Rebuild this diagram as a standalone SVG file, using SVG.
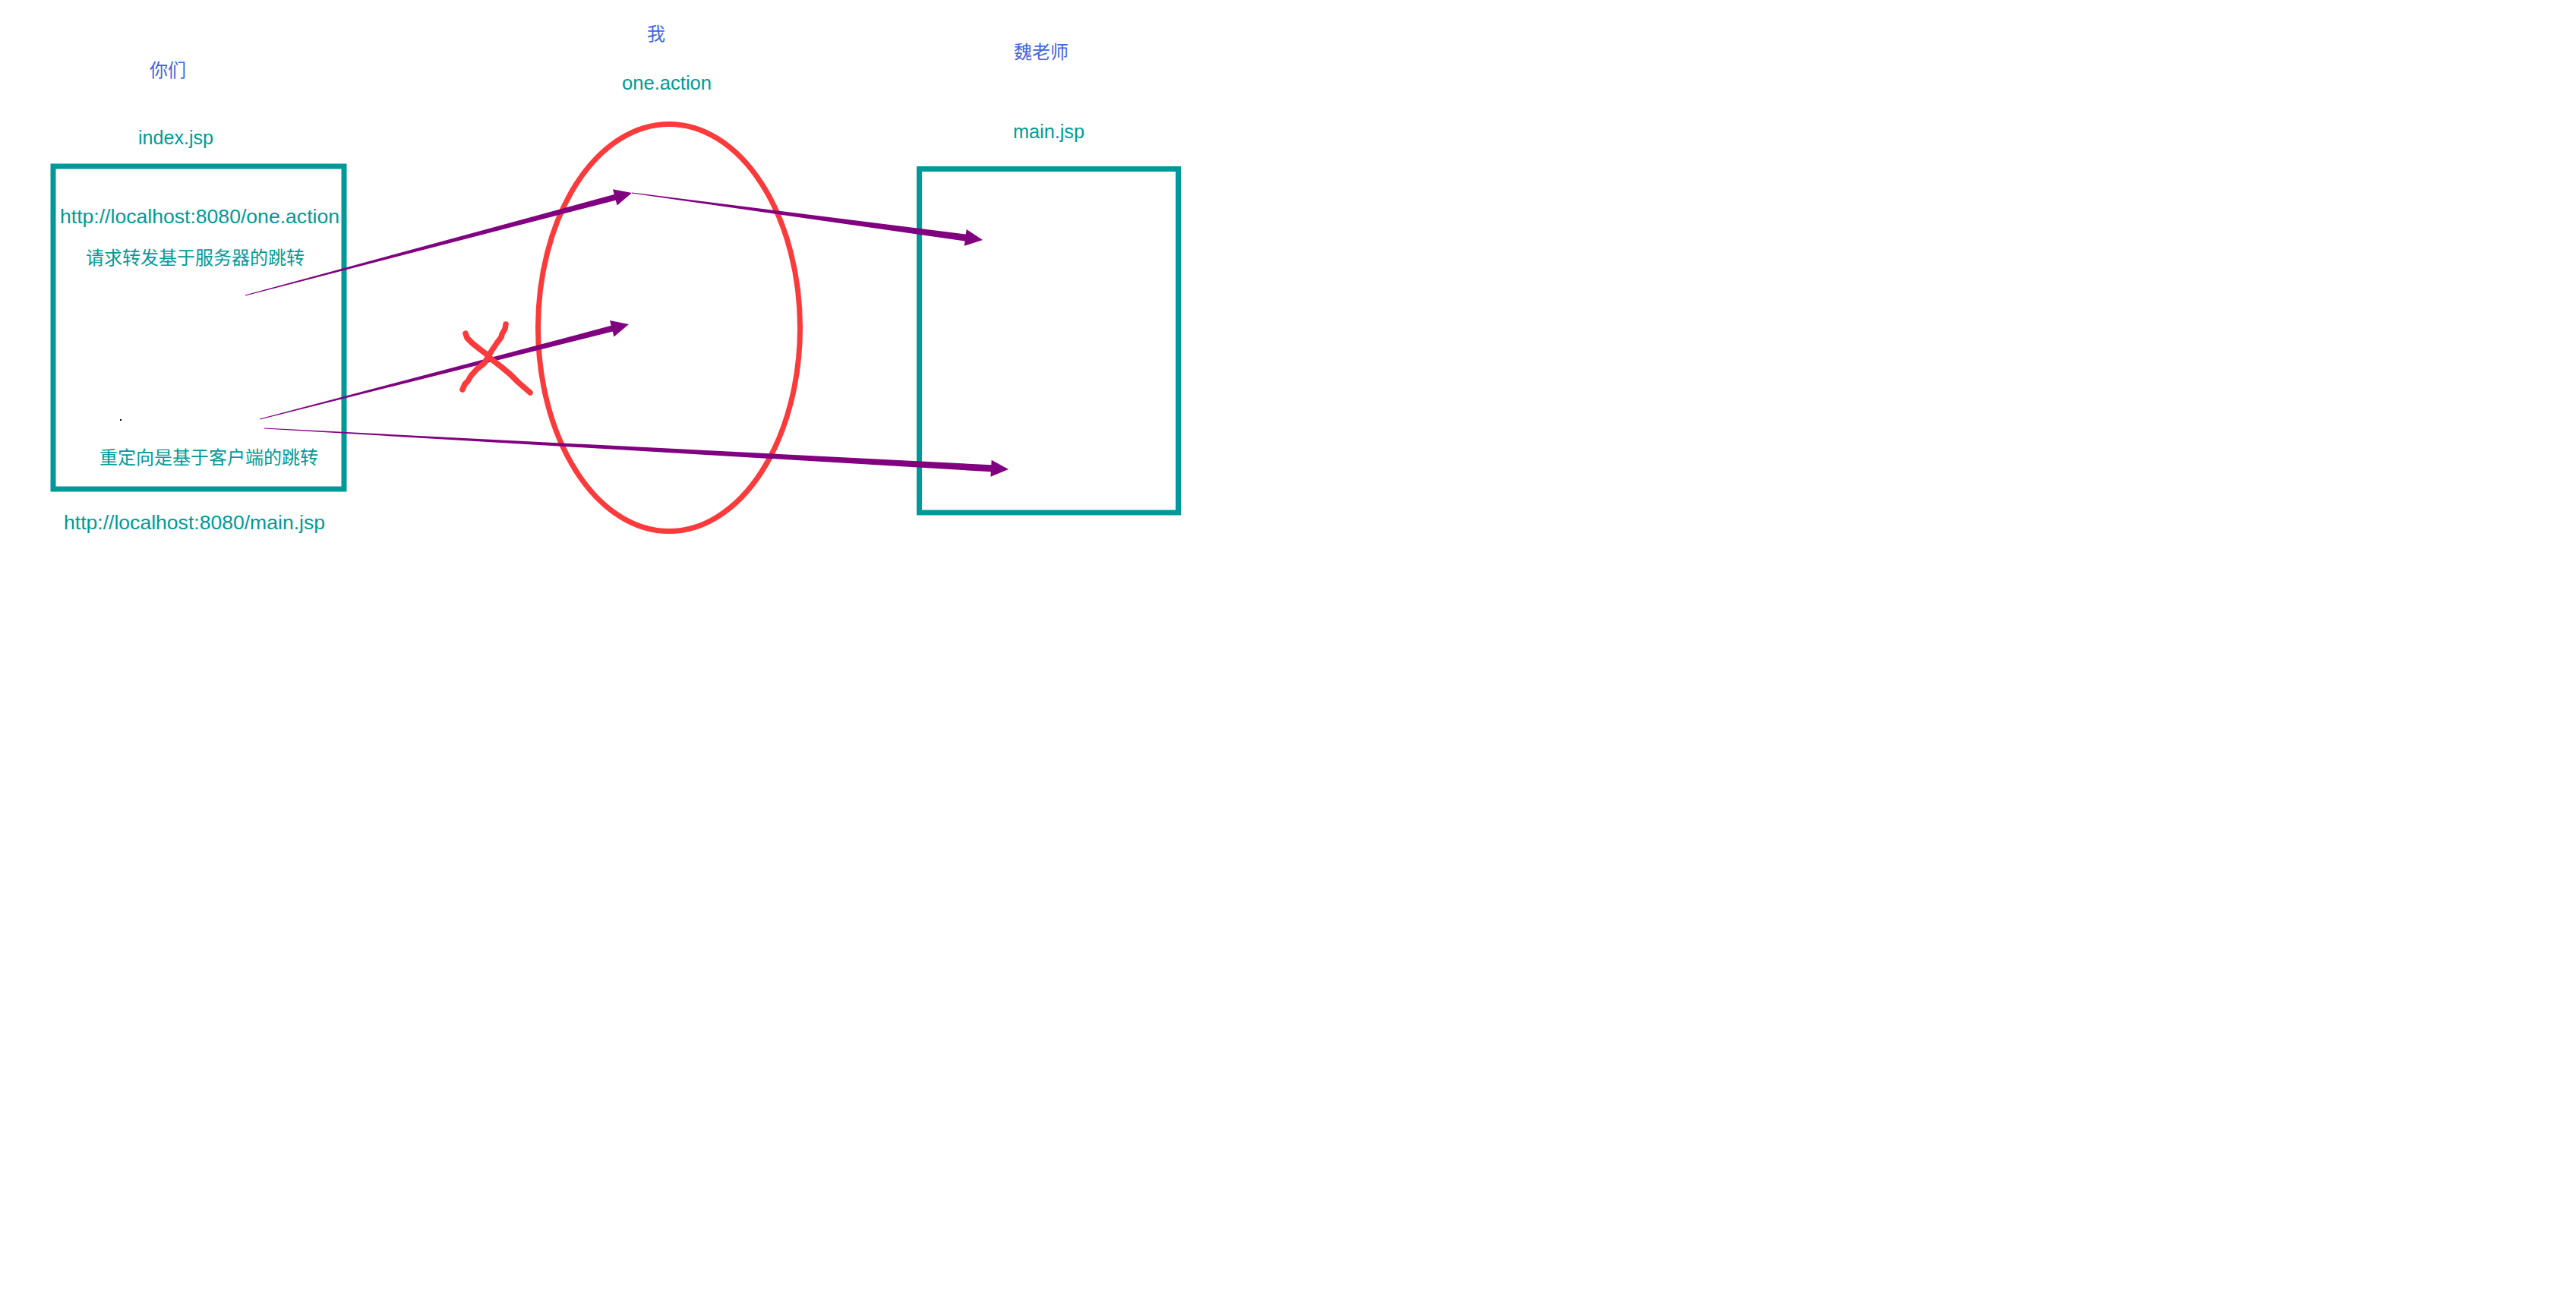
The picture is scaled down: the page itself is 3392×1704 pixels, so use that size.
<svg xmlns="http://www.w3.org/2000/svg" width="3392" height="1704" viewBox="0 0 3392 1704">
<style>
.box{fill:none;stroke:#009999;stroke-width:7}
.oval{fill:none;stroke:#fb3b3b;stroke-width:7}
.lat{font-family:"Liberation Sans","Noto Sans",sans-serif;font-size:26px;fill:#009a97}
.cjk{font-family:"Noto Sans CJK SC","Noto Sans",sans-serif;font-size:24px;fill:#009a97}
.who{font-family:"Noto Sans CJK SC","Noto Sans",sans-serif;font-size:24px;fill:#4166dc}
.arrow{fill:#800080;stroke:none}
.cross{fill:none;stroke:#fb3b3b;stroke-width:7.5;stroke-linecap:round;stroke-linejoin:round}
</style>
<rect width="3392" height="1704" fill="#ffffff"/>
<g id="node-index">
<rect class="box" x="70" y="219" width="383" height="425"/>
<text class="who" x="221" y="101" text-anchor="middle">你们</text>
<text class="lat" x="182" y="190" textLength="99" lengthAdjust="spacingAndGlyphs">index.jsp</text>
<text class="lat" x="79" y="294" textLength="368" lengthAdjust="spacingAndGlyphs">http://localhost:8080/one.action</text>
<text class="cjk" x="113" y="348">请求转发基于服务器的跳转</text>
<text class="cjk" x="131" y="611">重定向是基于客户端的跳转</text>
<text class="lat" x="84" y="697" textLength="344" lengthAdjust="spacingAndGlyphs">http://localhost:8080/main.jsp</text>
<rect x="158" y="552" width="2" height="2" fill="#000000"/>
</g>
<g id="node-one-action">
<ellipse class="oval" cx="881" cy="431.5" rx="172.5" ry="268"/>
<text class="who" x="864" y="53" text-anchor="middle">我</text>
<text class="lat" x="819" y="118" textLength="118" lengthAdjust="spacingAndGlyphs">one.action</text>
</g>
<g id="node-main">
<rect class="box" x="1210.5" y="222.5" width="341" height="452.5"/>
<text class="who" x="1371" y="77" text-anchor="middle">魏老师</text>
<text class="lat" x="1334" y="182" textLength="94" lengthAdjust="spacingAndGlyphs">main.jsp</text>
</g>
<g id="connectors">
<path class="arrow" d="M322.87,388.52 L808.74,256.03 L806.95,249.27 L832,254 L812.59,270.53 L810.80,263.77 L323.13,389.48 Z"/>
<path class="arrow" d="M832.07,253.50 L1271.80,308.48 L1272.66,302.04 L1294,316 L1269.74,323.84 L1270.60,317.40 L831.93,254.50 Z"/>
<path class="arrow" d="M341.88,551.52 L804.72,428.86 L802.98,422.08 L828,427 L808.46,443.38 L806.72,436.60 L342.12,552.48 Z"/>
<path class="arrow" d="M348.03,563.50 L1305.28,612.24 L1305.64,605.75 L1328,618 L1304.43,627.71 L1304.78,621.22 L347.97,564.50 Z"/>
</g>
<g id="cross-mark">
<path class="cross" d="M613,439 L615,445 L622,452 L632,460 L640,466 L647,473 L660,483 L672,493 L682,503 L690,510 L698,517"/>
<path class="cross" d="M666,427 L665,433 L661,440 L660,444 L654,452 L648,461 L643,469 L638,478 L628,486 L620,495 L616,502 L612,506 L609,513"/>
</g>
</svg>
